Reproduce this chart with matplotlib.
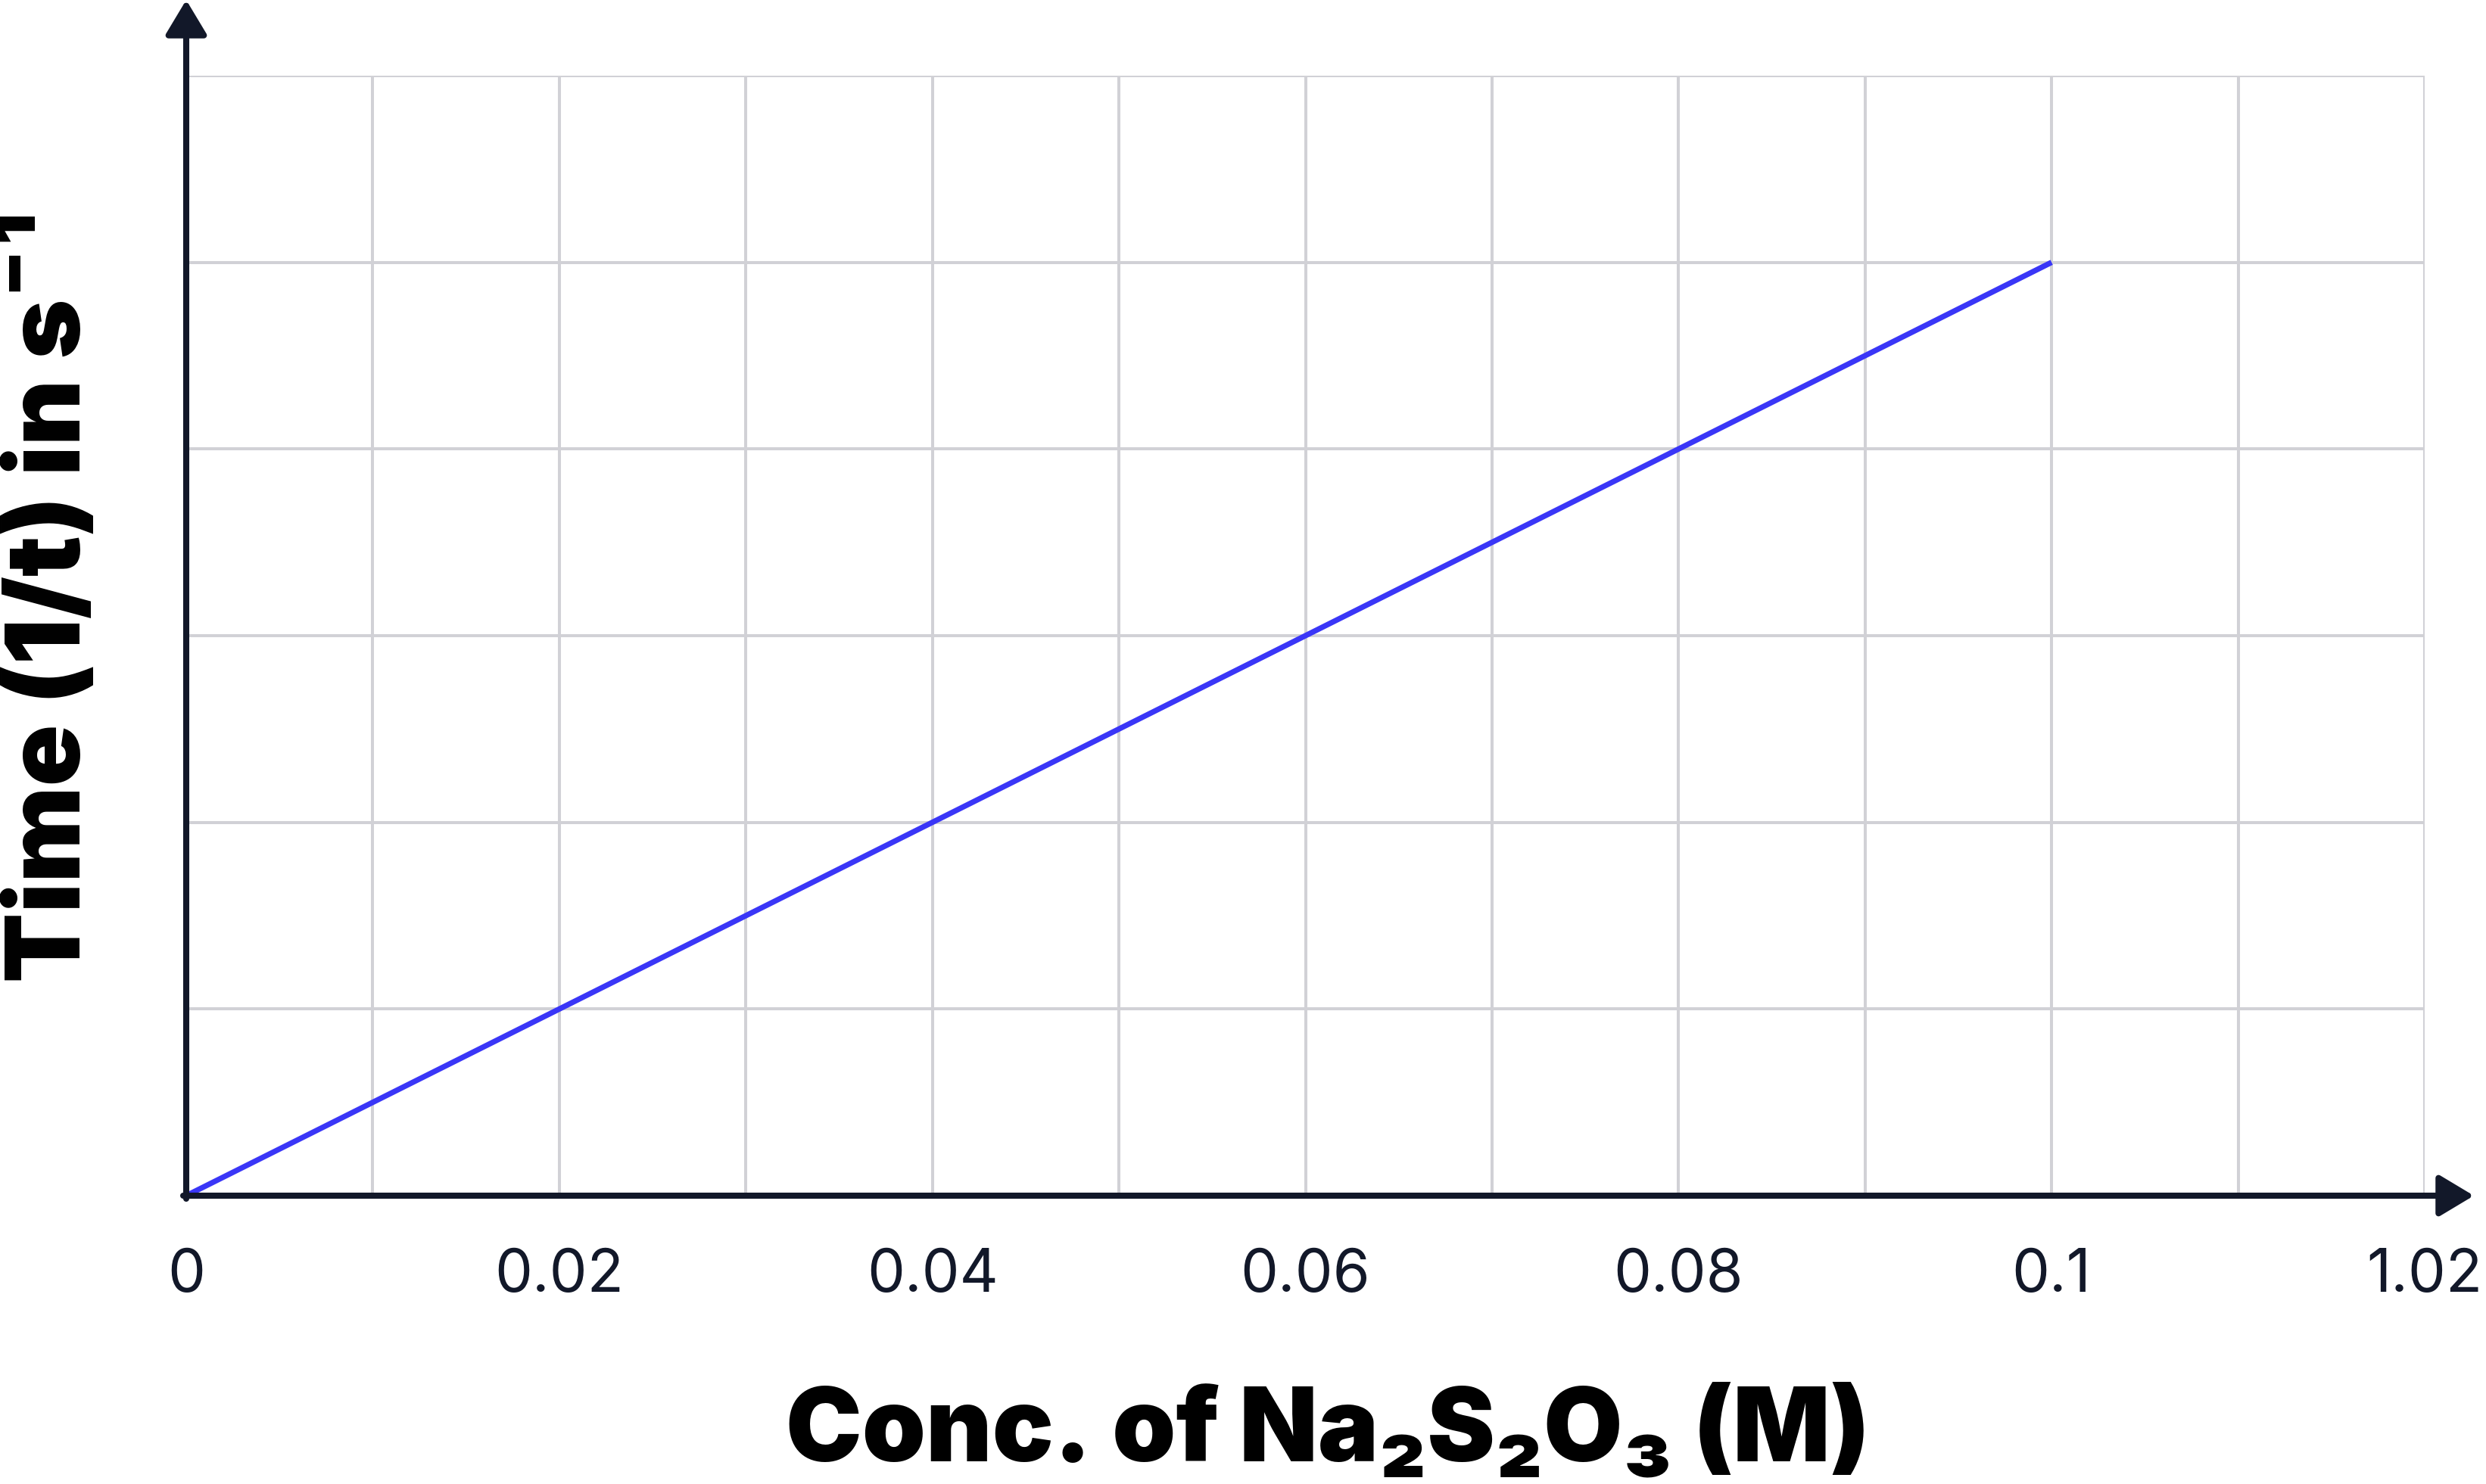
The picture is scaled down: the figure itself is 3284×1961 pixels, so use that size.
"""Rate of reaction vs. thiosulfate concentration (1/t against conc.)."""

import matplotlib
matplotlib.use("Agg")
import matplotlib.pyplot as plt

# data
conc = [0.0, 0.02, 0.04, 0.06, 0.08, 0.10]
rate = [0.0, 1.0, 2.0, 3.0, 4.0, 5.0]

x_ticks = [0.0, 0.01, 0.02, 0.03, 0.04, 0.05, 0.06, 0.07, 0.08, 0.09, 0.10, 0.11, 0.12]
x_tick_labels = ["0", "", "0.02", "", "0.04", "", "0.06", "", "0.08", "", "0.1", "", "1.02"]
y_ticks = [0, 1, 2, 3, 4, 5, 6]

AXIS_COLOR = "#121829"
GRID_COLOR = "#d1d1d6"
LINE_COLOR = "#3a36f7"
FONTS = ["Inter", "DejaVu Sans"]

W, H = 3284, 1961
fig = plt.figure(figsize=(W / 100, H / 100), dpi=100)
ax = fig.add_axes([246 / W, 1 - 1580 / H, (3203 - 246) / W, 1480 / H])

ax.plot(conc, rate, color=LINE_COLOR, linewidth=5.2, solid_capstyle="butt", zorder=3)

ax.set_xlim(0, 0.12)
ax.set_ylim(0, 6)
ax.set_xticks(x_ticks)
ax.set_xticklabels(x_tick_labels, fontfamily=FONTS, fontsize=57, color=AXIS_COLOR)
ax.set_yticks(y_ticks)
ax.set_yticklabels([])
ax.tick_params(length=0, pad=50)
ax.grid(True, color=GRID_COLOR, linewidth=2.9)
ax.set_axisbelow(True)

for side in ("top", "right", "left", "bottom"):
    ax.spines[side].set_visible(False)

# axes drawn as arrows running past the plot area
arrow = dict(arrowstyle="-|>,head_length=0.4,head_width=0.24", color=AXIS_COLOR,
             lw=5.8, mutation_scale=70, shrinkA=0, shrinkB=0)
ax.annotate("", xy=(0, 1580 / 1480), xytext=(0, -4 / 1480), xycoords="axes fraction",
            arrowprops=arrow, annotation_clip=False)
ax.annotate("", xy=(3022 / 2957, 0), xytext=(-4 / 2957, 0), xycoords="axes fraction",
            arrowprops=arrow, annotation_clip=False)

fig.text(1754 / W, 1 - 1895 / H, "Conc. of Na₂S₂O₃ (M)", ha="center", va="center",
         fontsize=97, fontweight="black", fontfamily=FONTS, color="black")
fig.text(68 / W, 1 - 788 / H, "Time (1/t) in s⁻¹", ha="center", va="center", rotation=90,
         fontsize=97, fontweight="black", fontfamily=FONTS, color="black")

fig.savefig("out.png", dpi=100)
